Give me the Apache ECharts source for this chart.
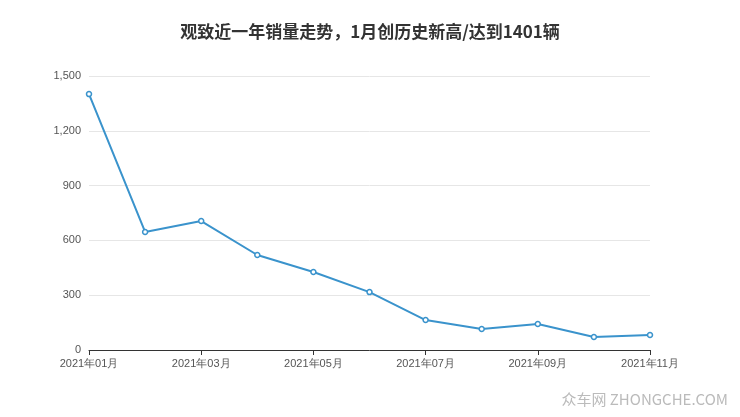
<!DOCTYPE html>
<html><head><meta charset="utf-8">
<script src="https://cdn.jsdelivr.net/npm/echarts@6/dist/echarts.min.js"></script>
<style>html,body{margin:0;padding:0;background:#fff}#c{width:740px;height:417px}</style>
</head><body><div id="c"></div>
<script>
const months = ['2021年01月','2021年02月','2021年03月','2021年04月','2021年05月','2021年06月','2021年07月','2021年08月','2021年09月','2021年10月','2021年11月'];
const sales = [1401, 646, 706, 520, 427, 317, 164, 115, 142, 71, 82];
const chart = echarts.init(document.getElementById('c'));
chart.setOption({
  title:{text:'观致近一年销量走势，1月创历史新高/达到1401辆',left:'center',top:18,
    textStyle:{fontSize:17,fontWeight:'bold',color:'#333',fontFamily:'"Noto Sans CJK SC"'}},
  graphic:[{type:'text',right:12,bottom:10,style:{text:'众车网 ZHONGCHE.COM',fill:'#bbb',fontSize:15,fontFamily:'"Noto Sans CJK SC"'}}],
  grid:{left:89,right:90,top:76,bottom:67},
  xAxis:{type:'category',data:months,boundaryGap:false,
    axisLine:{lineStyle:{color:'#333'}},axisTick:{show:true,interval:1,lineStyle:{color:'#333'}},
    axisLabel:{interval:1,color:'#555',fontSize:11}},
  yAxis:{type:'value',min:0,max:1500,interval:300,
    axisLine:{show:false},axisTick:{show:false},
    axisLabel:{color:'#555',fontSize:11,formatter:v=>v.toLocaleString('en-US')},
    splitLine:{lineStyle:{color:'#e6e6e6'}}},
  series:[{type:'line',data:sales,symbol:'circle',symbolSize:5,
    itemStyle:{color:'#fff',borderColor:'#3a93cc',borderWidth:1.5},
    lineStyle:{color:'#3a93cc',width:2}}]
});
</script></body></html>
